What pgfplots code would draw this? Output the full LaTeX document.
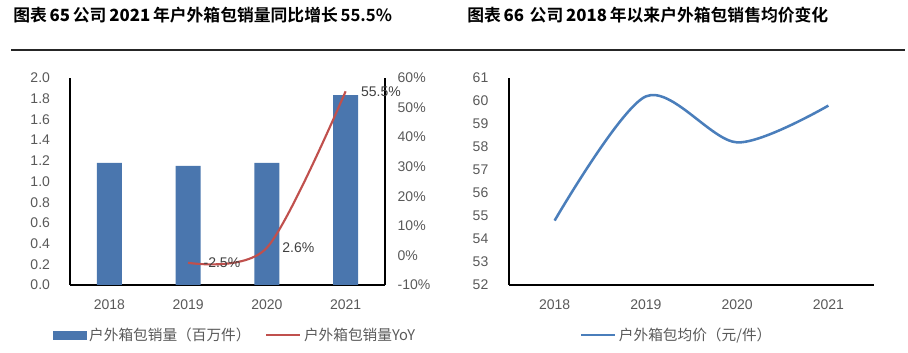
\documentclass[border=0pt]{standalone}
\usepackage{fontspec}
\setmainfont{Liberation Sans}
\newfontfamily\cjk{Noto Sans CJK SC}
\newfontfamily\cjkb{Noto Sans CJK SC Bold}
\usepackage{pgfplots}
\pgfplotsset{compat=1.18}
\definecolor{barblue}{RGB}{74,118,174}
\definecolor{redline}{RGB}{192,80,77}
\definecolor{blueline}{RGB}{74,126,187}
\definecolor{ticktxt}{RGB}{89,89,89}
\definecolor{lbltxt}{RGB}{64,64,64}
\pgfplotsset{
  common/.style={
    scale only axis,
    height=155.25pt,
    xmin=-0.5, xmax=3.5,
    major tick length=0pt,
    tick label style={font=\fontsize{10.5}{12}\selectfont, text=ticktxt},
    axis line style={line width=0.9pt, black},
    /pgf/number format/assume math mode=true,
  }
}
\begin{document}
\begin{tikzpicture}
\useasboundingbox (0pt,0pt) rectangle (681pt,-264.75pt);
% titles
\node[anchor=west, inner sep=0pt, font=\fontsize{12.6}{14}\selectfont] at (9.75pt,-11.25pt)
  {\cjkb{图表}\,\textbf{65}\,\cjkb{公司}\,\textbf{2021}\,\cjkb{年户外箱包销量同比增长}\,55.5\%};
\node[anchor=west, inner sep=0pt, font=\fontsize{12.6}{14}\selectfont] at (350.25pt,-11.25pt)
  {\cjkb{图表}\,\textbf{66}\,\,\cjkb{公司}\,\textbf{2018}\,\cjkb{年以来户外箱包销售均价变化}};
\draw[line width=1.5pt, black!85] (8.25pt,-37.5pt) -- (678.75pt,-37.5pt);

% left chart: bars
\begin{axis}[common,
  at={(52.5pt,-58.5pt)}, anchor=north west,
  width=236.25pt,
  axis x line*=bottom, axis y line*=left,
  ymin=0, ymax=2,
  ytick={0,0.2,...,2.01},
  yticklabel style={/pgf/number format/fixed, /pgf/number format/fixed zerofill, /pgf/number format/precision=1, xshift=-11.5pt},
  xtick={0,1,2,3}, xticklabels={2018,2019,2020,2021},
  xticklabel style={yshift=-7.5pt},
]
\addplot[ybar, bar width=18.75pt, fill=barblue, draw=none] coordinates {(0,1.18) (1,1.15) (2,1.18) (3,1.835)};
\end{axis}
% left chart: YoY line
\begin{axis}[common,
  at={(52.5pt,-58.5pt)}, anchor=north west,
  width=236.25pt,
  axis x line=none, axis y line*=right,
  ymin=-10, ymax=60,
  ytick={-10,0,...,60},
  yticklabel={\pgfmathprintnumber{\tick}\%},
  yticklabel style={xshift=6pt},
  legend style={at={(0.525,-0.2415)}, anchor=center, draw=none, fill=none,
    legend columns=2, font=\fontsize{11}{13}\selectfont, text=ticktxt,
    /tikz/every even column/.append style={column sep=9pt}},
]
\addlegendimage{legend image code/.code={\fill[barblue] (0pt,-3pt) rectangle (24.75pt,3pt);}}
\addlegendentry{\cjk{户外箱包销量（百万件）}}
\addplot[redline, line width=1.6pt, smooth, tension=0.5,
  point meta=explicit symbolic,
  nodes near coords,
  nodes near coords style={anchor=west, xshift=7.5pt, font=\fontsize{10.5}{12}\selectfont, text=lbltxt},
  legend image code/.code={\draw[redline, line width=1.6pt] (0pt,0pt) -- (25.5pt,0pt);}]
  coordinates {(1,-2.5) [-2.5\%] (2,2.6) [2.6\%] (3,55.5) [55.5\%]};
\addlegendentry{\cjk{户外箱包销量}YoY}
\end{axis}

% right chart
\begin{axis}[common,
  at={(381.75pt,-58.5pt)}, anchor=north west,
  width=273.75pt,
  axis x line*=bottom, axis y line*=left,
  ymin=52, ymax=61,
  ytick={52,53,...,61},
  yticklabel style={xshift=-12pt},
  xtick={0,1,2,3}, xticklabels={2018,2019,2020,2021},
  xticklabel style={yshift=-7.5pt},
  legend style={at={(0.46,-0.2415)}, anchor=center, draw=none, fill=none,
    font=\fontsize{11}{13}\selectfont, text=ticktxt},
]
\addplot[blueline, line width=1.9pt, smooth, tension=0.5,
  legend image code/.code={\draw[blueline, line width=1.9pt] (0pt,0pt) -- (25.5pt,0pt);}]
  coordinates {(0,54.8) (1,60.2) (2,58.2) (3,59.8)};
\addlegendentry{\cjk{户外箱包均价（元/件）}}
\end{axis}
\end{tikzpicture}
\end{document}
